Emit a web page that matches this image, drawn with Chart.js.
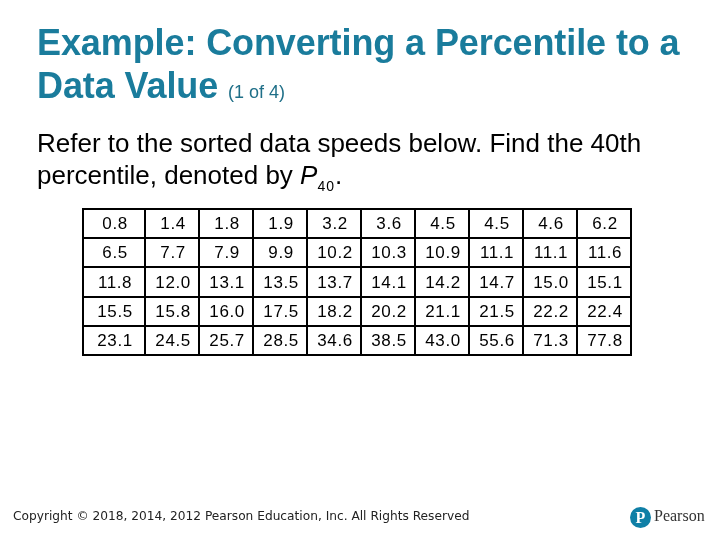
<!DOCTYPE html>
<html>
<head>
<meta charset="utf-8">
<script src="https://cdn.jsdelivr.net/npm/chart.js@4/dist/chart.umd.min.js"></script>
<style>
    html, body { margin: 0; padding: 0; background: #fff; }
    #slide { position: relative; width: 720px; height: 540px; overflow: hidden; font-family: "Liberation Sans", Arial, sans-serif; }
    #table { position: absolute; left: 0; top: 0; }
    .title { position: absolute; left: 37px; top: 21px; margin: 0; font-size: 36px; font-weight: bold; line-height: 43px; color: #1a7c9c; white-space: nowrap; letter-spacing: -0.1px; }
    .title small { font-size: 18px; font-weight: normal; letter-spacing: 0; color: #1f6f88; }
    .intro { position: absolute; left: 37px; top: 127px; margin: 0; font-size: 26px; line-height: 32px; color: #000; white-space: nowrap; }
    .intro sub { font-size: 14px; line-height: 0; vertical-align: -7px; letter-spacing: 1px; }
    .footer { position: absolute; left: 13px; top: 509px; font-family: "DejaVu Sans", sans-serif; font-size: 12.2px; color: #222; white-space: nowrap; }
    .logo { position: absolute; left: 630px; top: 507px; width: 21px; height: 21px; border-radius: 50%; background: #0f7fa6; color: #fff; font: bold 16px "Liberation Serif", serif; text-align: center; line-height: 22px; }
    .brand { position: absolute; left: 654px; top: 507px; font: 16px "Liberation Serif", "DejaVu Serif", serif; color: #333; white-space: nowrap; }
</style>
</head>
<body>
<div id="slide">
    <canvas id="table" width="720" height="540"></canvas>
    <h1 class="title">Example: Converting a Percentile to a<br>Data Value <small>(1 of 4)</small></h1>
    <p class="intro">Refer to the sorted data speeds below. Find the 40th<br>percentile, denoted by <i>P</i><sub>40</sub>.</p>
    <div class="footer">Copyright © 2018, 2014, 2012 Pearson Education, Inc. All Rights Reserved</div>
    <div class="logo">P</div>
    <div class="brand">Pearson</div>
</div>
<script>
// Sorted data speeds, one array per table row
const row1 = [0.8, 1.4, 1.8, 1.9, 3.2, 3.6, 4.5, 4.5, 4.6, 6.2];
const row2 = [6.5, 7.7, 7.9, 9.9, 10.2, 10.3, 10.9, 11.1, 11.1, 11.6];
const row3 = [11.8, 12.0, 13.1, 13.5, 13.7, 14.1, 14.2, 14.7, 15.0, 15.1];
const row4 = [15.5, 15.8, 16.0, 17.5, 18.2, 20.2, 21.1, 21.5, 22.2, 22.4];
const row5 = [23.1, 24.5, 25.7, 28.5, 34.6, 38.5, 43.0, 55.6, 71.3, 77.8];
const rows = [row1, row2, row3, row4, row5];

const numCols = row1.length;
const firstColExtra = 0.15;   // first column is a bit wider in the slide

function colCenter(i) {
    return i === 0 ? (1 - firstColExtra) / 2 : i + 0.5;
}

// Draws the cell borders and the numbers in each cell
const tableGrid = {
    id: 'tableGrid',
    beforeDatasetsDraw(chart) {
        const { ctx, scales: { x, y } } = chart;
        ctx.save();
        ctx.strokeStyle = '#000';
        ctx.lineWidth = 2;
        const top = Math.round(y.getPixelForValue(0));
        const bottom = Math.round(y.getPixelForValue(rows.length));
        const left = Math.round(x.getPixelForValue(-firstColExtra));
        const right = Math.round(x.getPixelForValue(numCols));
        ctx.beginPath();
        for (let c = 0; c <= numCols; c++) {
            const px = c === 0 ? left : Math.round(x.getPixelForValue(c));
            ctx.moveTo(px, top - 1);
            ctx.lineTo(px, bottom + 1);
        }
        for (let r = 0; r <= rows.length; r++) {
            const py = Math.round(y.getPixelForValue(r));
            ctx.moveTo(left - 1, py);
            ctx.lineTo(right + 1, py);
        }
        ctx.stroke();
        ctx.restore();
    },
    afterDatasetsDraw(chart) {
        const ctx = chart.ctx;
        ctx.save();
        ctx.fillStyle = '#000';
        ctx.font = '17px "Liberation Sans", Arial, sans-serif';
        ctx.letterSpacing = '0.6px';
        ctx.textAlign = 'center';
        ctx.textBaseline = 'middle';
        chart.data.datasets.forEach((ds, d) => {
            const meta = chart.getDatasetMeta(d);
            meta.data.forEach((pt, i) => {
                ctx.fillText(ds.data[i].v.toFixed(1), pt.x + 1, pt.y + 1);
            });
        });
        ctx.restore();
    }
};

const table = new Chart(document.getElementById('table').getContext('2d'), {
    type: 'scatter',
    data: {
        datasets: rows.map((row, r) => ({
            label: 'Row ' + (r + 1),
            data: row.map((v, i) => ({ x: colCenter(i), y: r + 0.5, v: v })),
            pointRadius: 0
        }))
    },
    options: {
        responsive: false,
        animation: false,
        events: [],
        layout: {
            padding: { left: 83, top: 209, right: 89, bottom: 185 }
        },
        plugins: {
            legend: { display: false },
            tooltip: { enabled: false }
        },
        scales: {
            x: { type: 'linear', display: false, min: -firstColExtra, max: numCols },
            y: { type: 'linear', display: false, min: 0, max: rows.length, reverse: true }
        }
    },
    plugins: [tableGrid]
});
</script>
</body>
</html>
